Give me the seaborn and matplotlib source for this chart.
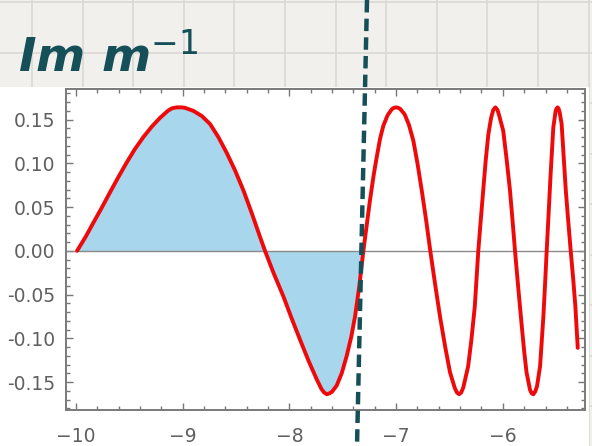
import numpy as np
import pandas as pd
import matplotlib
matplotlib.use("Agg")
import matplotlib.pyplot as plt
from matplotlib.lines import Line2D
from matplotlib.patches import Rectangle
from matplotlib.ticker import MultipleLocator
import seaborn as sns

# valores (Im m^-1)
x_vals = [-9.99, -9.91, -9.838, -9.76, -9.681, -9.60, -9.525, -9.45, -9.369, -9.29,
          -9.213, -9.14, -9.10, -9.056, -9.01, -8.98, -8.90, -8.82, -8.744, -8.666,
          -8.588, -8.51, -8.431, -8.35, -8.276, -8.229, -8.15, -8.057, -7.98, -7.901,
          -7.82, -7.744, -7.70, -7.675, -7.65, -7.625, -7.60, -7.557, -7.51, -7.463,
          -7.42, -7.385, -7.345, -7.307, -7.275, -7.245, -7.21, -7.182, -7.151, -7.12,
          -7.08, -7.04, -7.02, -7.00, -6.98, -6.96, -6.92, -6.88, -6.839, -6.80,
          -6.76, -6.72, -6.68, -6.635, -6.589, -6.54, -6.495, -6.45, -6.43, -6.41,
          -6.39, -6.37, -6.325, -6.295, -6.263, -6.23, -6.207, -6.184, -6.16, -6.136,
          -6.11, -6.09, -6.07, -6.05, -6.035, -5.996, -5.965, -5.933, -5.91, -5.886,
          -5.855, -5.825, -5.80, -5.778, -5.745, -5.73, -5.714, -5.697, -5.68, -5.651,
          -5.62, -5.605, -5.589, -5.57, -5.552, -5.527, -5.505, -5.495, -5.486, -5.476,
          -5.467, -5.449, -5.43, -5.41, -5.387, -5.364, -5.34, -5.32, -5.298]
y_vals = [0.000, 0.016, 0.032, 0.049, 0.067, 0.085, 0.101, 0.116, 0.130, 0.142,
          0.152, 0.160, 0.163, 0.164, 0.164, 0.1635, 0.160, 0.154, 0.145, 0.130,
          0.112, 0.092, 0.069, 0.042, 0.016, 0.000, -0.025, -0.052, -0.077, -0.1015,
          -0.126, -0.147, -0.158, -0.162, -0.164, -0.163, -0.161, -0.154, -0.140, -0.120,
          -0.098, -0.075, -0.040, 0.000, 0.030, 0.058, 0.087, 0.107, 0.128, 0.143,
          0.155, 0.162, 0.1635, 0.164, 0.1635, 0.162, 0.156, 0.144, 0.126, 0.100,
          0.069, 0.036, 0.000, -0.038, -0.075, -0.110, -0.139, -0.157, -0.162, -0.164,
          -0.162, -0.156, -0.132, -0.102, -0.064, 0.000, 0.035, 0.069, 0.104, 0.133,
          0.152, 0.161, 0.164, 0.161, 0.155, 0.137, 0.105, 0.069, 0.036, 0.000,
          -0.043, -0.083, -0.115, -0.139, -0.159, -0.163, -0.164, -0.161, -0.155, -0.132,
          -0.075, -0.040, 0.000, 0.045, 0.088, 0.141, 0.160, 0.163, 0.164, 0.162,
          0.158, 0.145, 0.108, 0.069, 0.034, 0.000, -0.033, -0.064, -0.111]
fill_ate = -7.307  # area pintada a mao ate aqui

x_ticks = [-10, -9, -8, -7, -6]
x_labels = ["\u221210", "\u22129", "\u22128", "\u22127", "\u22126"]
y_ticks = [-0.15, -0.10, -0.05, 0.00, 0.05, 0.10, 0.15]
y_labels = ["-0.15", "-0.10", "-0.05", "0.00", "0.05", "0.10", "0.15"]

df = pd.DataFrame({"x": x_vals, "y": y_vals})

sns.set_style("ticks")
plt.rcParams["font.family"] = ["DejaVu Sans"]

W, H = 592, 446
fig = plt.figure(figsize=(W / 100, H / 100), dpi=100)
fig.patch.set_facecolor("#f1f0ec")

# papel quadriculado
for gx in np.arange(32, W + 10, 50.6):
    fig.add_artist(Line2D([gx / W, gx / W], [0, 1], transform=fig.transFigure,
                          color="#dad9d4", lw=1.2, zorder=-3))
for gy in np.arange(2, H + 10, 50.5):
    fig.add_artist(Line2D([0, 1], [1 - gy / H, 1 - gy / H], transform=fig.transFigure,
                          color="#dad9d4", lw=1.2, zorder=-3))
# screenshot branco colado no papel
fig.add_artist(Rectangle((0, 0), 589 / W, (H - 87) / H, transform=fig.transFigure,
                         facecolor="white", edgecolor="none", zorder=-2))

ax = fig.add_axes([66 / W, (H - 410) / H, (585 - 66) / W, (410 - 89) / H])
ax.set_facecolor("white")

mask = df["x"] <= fill_ate
ax.fill_between(df["x"][mask], df["y"][mask], 0, color="#a8d6ed", lw=0, zorder=1)
ax.axhline(0, color="#8a8a8a", lw=1, zorder=2)
sns.lineplot(data=df, x="x", y="y", ax=ax, color="#ee0a0a", lw=2.8,
             estimator=None, zorder=3, solid_joinstyle="round", solid_capstyle="round")

ax.set_xlim(-10.094, -5.23)
ax.set_ylim(-0.182, 0.185)
ax.set_xticks(x_ticks)
ax.set_xticklabels(x_labels)
ax.set_yticks(y_ticks)
ax.set_yticklabels(y_labels)
ax.xaxis.set_minor_locator(MultipleLocator(0.2))
ax.yaxis.set_minor_locator(MultipleLocator(0.01))
ax.tick_params(which="both", direction="in", top=True, right=True,
               color="#777777", width=1)
ax.tick_params(which="major", length=5)
ax.tick_params(which="minor", length=3)
ax.tick_params(axis="y", which="major", pad=8, labelsize=13.5, labelcolor="#606060")
ax.tick_params(axis="x", which="major", pad=12, labelsize=13.5, labelcolor="#606060")
ax.set_xlabel("")
ax.set_ylabel("")
for s in ax.spines.values():
    s.set_color("#7a7a7a")
    s.set_linewidth(1.4)

# anotacoes a mao
fig.text(18 / W, 1 - 72 / H, "Im m$^{-1}$", fontsize=34, fontweight="bold",
         fontstyle="italic", color="#154f58", zorder=6)
fig.add_artist(Line2D([367 / W, 357 / W], [1, 0], transform=fig.transFigure,
                      color="#154f58", lw=3.2, ls=(0, (2.8, 1.4)), zorder=6))

plt.savefig("out.png", dpi=100, facecolor=fig.get_facecolor())
